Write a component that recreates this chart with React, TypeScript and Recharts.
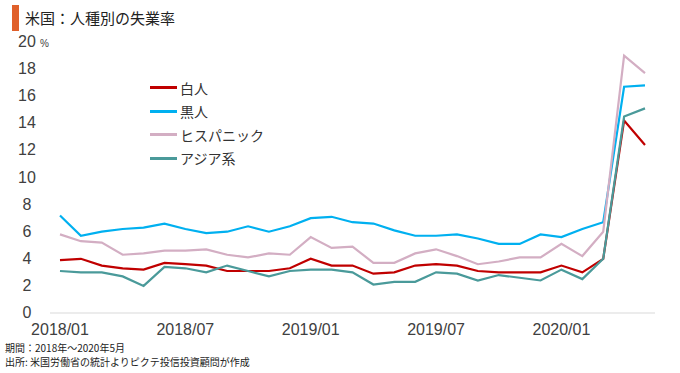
import { LineChart, Line, XAxis, YAxis } from "recharts";

const months = [
  "2018/01", "2018/02", "2018/03", "2018/04", "2018/05", "2018/06",
  "2018/07", "2018/08", "2018/09", "2018/10", "2018/11", "2018/12",
  "2019/01", "2019/02", "2019/03", "2019/04", "2019/05", "2019/06",
  "2019/07", "2019/08", "2019/09", "2019/10", "2019/11", "2019/12",
  "2020/01", "2020/02", "2020/03", "2020/04", "2020/05",
];

const white = [
  3.9, 4.0, 3.5, 3.3, 3.2, 3.7, 3.6, 3.5, 3.1, 3.1, 3.1, 3.3,
  4.0, 3.5, 3.5, 2.9, 3.0, 3.5, 3.6, 3.5, 3.1, 3.0, 3.0, 3.0,
  3.5, 3.0, 4.0, 14.2, 12.4,
];
const black = [
  7.2, 5.7, 6.0, 6.2, 6.3, 6.6, 6.2, 5.9, 6.0, 6.4, 6.0, 6.4,
  7.0, 7.1, 6.7, 6.6, 6.1, 5.7, 5.7, 5.8, 5.5, 5.1, 5.1, 5.8,
  5.6, 6.2, 6.7, 16.7, 16.8,
];
const hispanic = [
  5.8, 5.3, 5.2, 4.3, 4.4, 4.6, 4.6, 4.7, 4.3, 4.1, 4.4, 4.3,
  5.6, 4.8, 4.9, 3.7, 3.7, 4.4, 4.7, 4.2, 3.6, 3.8, 4.1, 4.1,
  5.1, 4.2, 6.0, 19.0, 17.7,
];
const asian = [
  3.1, 3.0, 3.0, 2.7, 2.0, 3.4, 3.3, 3.0, 3.5, 3.1, 2.7, 3.1,
  3.2, 3.2, 3.0, 2.1, 2.3, 2.3, 3.0, 2.9, 2.4, 2.8, 2.6, 2.4,
  3.2, 2.5, 4.0, 14.5, 15.1,
];

const yTicks = [0, 2, 4, 6, 8, 10, 12, 14, 16, 18, 20];

const series = [
  { key: "white", name: "白人", color: "#C00000" },
  { key: "black", name: "黒人", color: "#00B0F0" },
  { key: "hispanic", name: "ヒスパニック", color: "#D3AEC3" },
  { key: "asian", name: "アジア系", color: "#4A9A9A" },
];

const data = months.map((m, i) => ({
  month: m,
  white: white[i],
  black: black[i],
  hispanic: hispanic[i],
  asian: asian[i],
}));

const tickFont = "'Liberation Sans', Arial, sans-serif";
const jpFont = "'Noto Sans CJK JP', 'Noto Sans', sans-serif";

function YTick({ y, payload }: any) {
  return (
    <g>
      <text
        x={27}
        y={y}
        dy={5}
        textAnchor="middle"
        fontFamily={tickFont}
        fontSize={16}
        fill="#404040"
      >
        {payload.value}
      </text>
      {payload.value === 20 && (
        <text x={40} y={y} dy={5} fontFamily={tickFont} fontSize={10} fill="#404040">
          %
        </text>
      )}
    </g>
  );
}

function XTick({ x, y, payload }: any) {
  return (
    <text
      x={x}
      y={y}
      dy={14}
      textAnchor="middle"
      fontFamily={tickFont}
      fontSize={16}
      fill="#404040"
    >
      {payload.value}
    </text>
  );
}

export default function App() {
  return (
    <div
      style={{
        position: "absolute",
        left: 0,
        top: 0,
        width: 680,
        height: 373,
        background: "#fff",
        overflow: "hidden",
      }}
    >
      {/* title */}
      <div
        style={{
          position: "absolute",
          left: 12,
          top: 5,
          width: 7,
          height: 26,
          background: "#E0602A",
        }}
      />
      <div
        style={{
          position: "absolute",
          left: 25,
          top: 7,
          fontFamily: jpFont,
          fontSize: 15,
          color: "#222",
        }}
      >
        米国：人種別の失業率
      </div>

      <LineChart
        width={680}
        height={373}
        data={data}
        margin={{ top: 42, right: 25, bottom: 30, left: 0 }}
      >
        <XAxis
          dataKey="month"
          interval={5}
          tick={<XTick />}
          tickLine={false}
          axisLine={{ stroke: "#D9D9D9" }}
          padding={{ left: 10, right: 10 }}
          height={30}
        />
        <YAxis
          domain={[0, 20]}
          ticks={yTicks}
          interval={0}
          tick={<YTick />}
          tickLine={false}
          axisLine={false}
          width={50}
        />
        {series.map((s) => (
          <Line
            key={s.key}
            type="linear"
            dataKey={s.key}
            name={s.name}
            stroke={s.color}
            strokeWidth={2.2}
            dot={false}
            isAnimationActive={false}
          />
        ))}
      </LineChart>

      {/* legend */}
      <div
        style={{
          position: "absolute",
          left: 150,
          top: 76,
          fontFamily: jpFont,
          fontSize: 14,
          color: "#333",
        }}
      >
        {series.map((s) => (
          <div key={s.key} style={{ display: "flex", alignItems: "center", height: 23.5 }}>
            <span
              style={{
                display: "inline-block",
                width: 27,
                height: 3,
                background: s.color,
                marginRight: 3,
              }}
            />
            <span>{s.name}</span>
          </div>
        ))}
      </div>

      {/* notes */}
      <div
        style={{
          position: "absolute",
          left: 5,
          top: 341,
          fontFamily: jpFont,
          fontSize: 10,
          lineHeight: "14px",
          color: "#222",
        }}
      >
        <div>期間：2018年～2020年5月</div>
        <div>出所: 米国労働省の統計よりピクテ投信投資顧問が作成</div>
      </div>
    </div>
  );
}
